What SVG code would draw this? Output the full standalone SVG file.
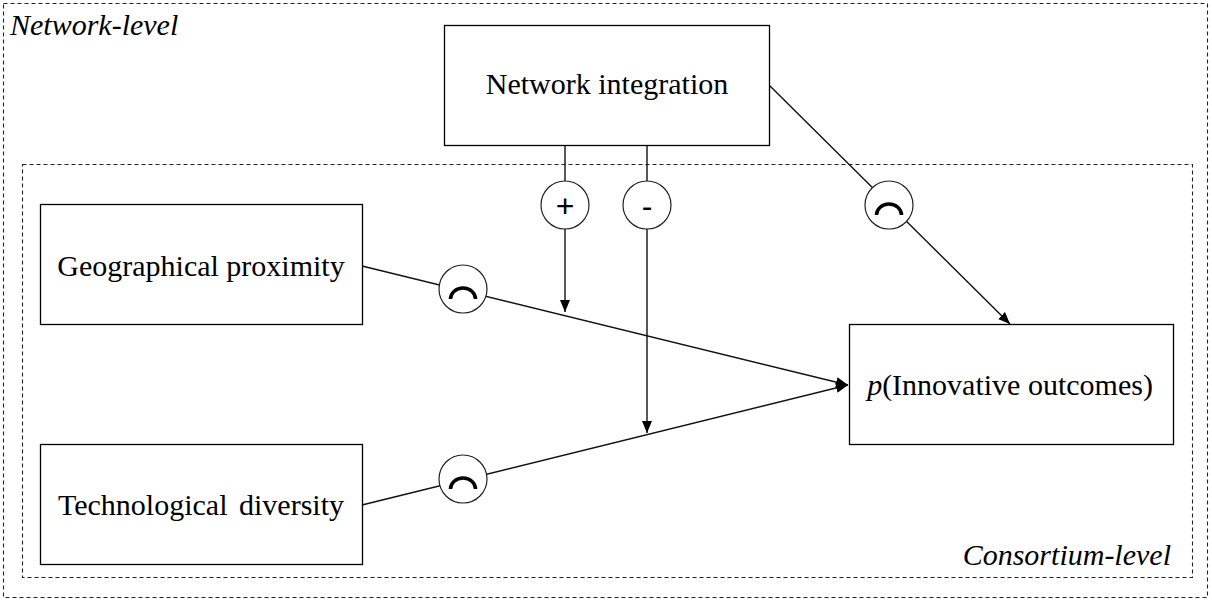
<svg xmlns="http://www.w3.org/2000/svg" width="1212" height="605" viewBox="0 0 1212 605">
<style>
.box{fill:#fff;stroke:#000;stroke-width:1.3}
.dash{fill:none;stroke:#222;stroke-width:1.1;stroke-dasharray:4 3}
.ln{fill:none;stroke:#111;stroke-width:1.4}
.circ{fill:#fff;stroke:#222;stroke-width:1.2}
.arc{fill:none;stroke:#000;stroke-width:3.5}
.t{font-family:"Liberation Serif","Times New Roman",serif;font-size:30px;fill:#000;text-anchor:middle}
.lvl{font-family:"Liberation Serif","Times New Roman",serif;font-size:30px;font-style:italic;fill:#000}
.sym{font-family:"Liberation Sans",Arial,sans-serif;font-size:32px;fill:#000;text-anchor:middle}
</style>
<defs>
<marker id="ah" viewBox="0 0 12 10" refX="12" refY="5" markerWidth="12" markerHeight="10" markerUnits="userSpaceOnUse" orient="auto">
<path d="M0,0 L12,5 L0,10 z" fill="#000"/>
</marker>
</defs>
<rect width="1212" height="605" fill="#fff"/>
<g id="network-level">
<rect class="dash" x="3.5" y="3.5" width="1204" height="594"/>
<text class="lvl" x="10" y="35" font-size="31">Network-level</text>
</g>
<g id="consortium-level">
<rect class="dash" x="22.5" y="164.5" width="1170" height="413"/>
<text class="lvl" x="1171" y="565" text-anchor="end">Consortium-level</text>
</g>
<g id="connectors">
<line class="ln" x1="565" y1="145" x2="565" y2="312" marker-end="url(#ah)"/>
<line class="ln" x1="647" y1="145" x2="647" y2="433" marker-end="url(#ah)"/>
<line class="ln" x1="362" y1="266" x2="848" y2="385" marker-end="url(#ah)"/>
<line class="ln" x1="362" y1="505" x2="848" y2="385" marker-end="url(#ah)"/>
<line class="ln" x1="769" y1="85" x2="1010" y2="324" marker-end="url(#ah)"/>
<circle class="circ" cx="565" cy="205" r="24"/>
<text class="sym" x="565" y="217">+</text>
<circle class="circ" cx="647" cy="205" r="24"/>
<text class="sym" x="647" y="217">-</text>
<circle class="circ" cx="463" cy="289" r="24"/>
<path class="arc" d="M450.5,299 A12.5,11 0 0 1 475.5,299"/>
<circle class="circ" cx="463" cy="479" r="24"/>
<path class="arc" d="M450.5,489 A12.5,11 0 0 1 475.5,489"/>
<circle class="circ" cx="889" cy="205" r="24"/>
<path class="arc" d="M876.5,215 A12.5,11 0 0 1 901.5,215"/>
</g>
<g id="network-integration">
<rect class="box" x="444.5" y="25.5" width="325" height="120"/>
<text class="t" x="607" y="94">Network integration</text>
</g>
<g id="geographical-proximity">
<rect class="box" x="40.5" y="204.5" width="322" height="120"/>
<text class="t" x="201" y="276">Geographical proximity</text>
</g>
<g id="technological-diversity">
<rect class="box" x="40.5" y="444.5" width="322" height="120"/>
<text class="t" x="201" y="515" word-spacing="4">Technological diversity</text>
</g>
<g id="innovative-outcomes">
<rect class="box" x="849.5" y="324.5" width="324" height="120"/>
<text class="t" x="1010" y="395"><tspan font-style="italic">p</tspan>(Innovative outcomes)</text>
</g>
</svg>
